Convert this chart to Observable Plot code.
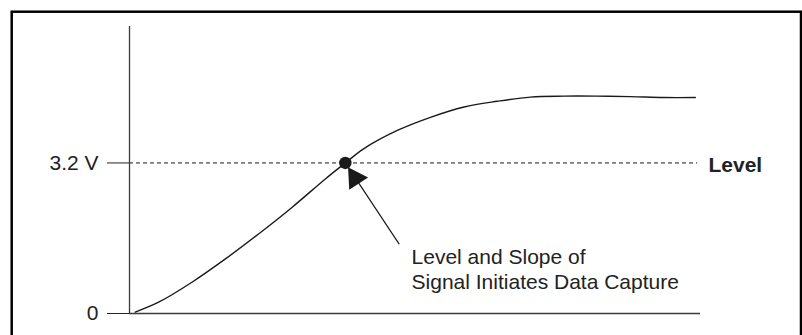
<!DOCTYPE html>
<html>
<head>
<meta charset="utf-8">
<script src="https://cdn.jsdelivr.net/npm/d3@7"></script>
<script src="https://cdn.jsdelivr.net/npm/@observablehq/plot@0.6"></script>
<style>
  html, body { margin: 0; padding: 0; background: #fff; }
  #chart svg { display: block; overflow: visible; }
</style>
</head>
<body>
<div id="chart"></div>
<script>
// Signal voltage over time (arbitrary time units 0–100, volts)
const time    = [1.0, 5.1, 11.0, 16.8, 22.6, 28.5, 34.3, 37.8, 41.0, 46.9, 52.7, 58.6, 64.4, 70.2, 76.1, 81.9, 87.7, 93.6, 99.1];
const voltage = [0.03, 0.24, 0.67, 1.16, 1.69, 2.26, 2.86, 3.20, 3.50, 3.89, 4.17, 4.39, 4.51, 4.60, 4.62, 4.62, 4.61, 4.59, 4.59];

// Trigger level and the moment the signal crosses it
const triggerLevel = 3.2;
const triggerTime = 37.8;

// Y axis ticks
const yTickValues = [0, 3.2];
const yTickLabels = ["0", "3.2 V"];

// Annotation text and where its pointer starts
const noteLines = ["Level and Slope of", "Signal Initiates Data Capture"];
const noteAnchor = {t: 49.4, v: 1.42};
const pointerTail = {t: 47.2, v: 1.48};
const levelLabel = "Level";

const signal = time.map((t, i) => ({t, v: voltage[i]}));
const crossing = [{t: triggerTime, v: triggerLevel}];

const ink = "#1a1a1a";
const axisInk = "#3a3a3a";
const fontPx = 21;

const chart = Plot.plot({
  width: 802,
  height: 335,
  marginLeft: 129,
  marginRight: 102,
  marginTop: 26,
  marginBottom: 22,
  style: {
    fontFamily: "'Liberation Sans', Arial, Helvetica, sans-serif",
    fontSize: fontPx + "px",
    color: "#222",
    background: "white",
    overflow: "visible"
  },
  x: {domain: [0, 100], axis: null},
  y: {
    domain: [0, 6.1],
    ticks: yTickValues,
    tickFormat: d => yTickLabels[yTickValues.indexOf(d)],
    tickSize: 22,
    tickPadding: 9,
    label: null
  },
  marks: [
    // outer border
    Plot.frame({stroke: "black", strokeWidth: 2.5, insetLeft: -117.8, insetTop: -14.8, insetRight: -100.5, insetBottom: -60}),
    // dashed trigger level
    Plot.ruleY([triggerLevel], {x1: 0, x2: 99.5, stroke: ink, strokeWidth: 1, strokeDasharray: "4,3"}),
    // axes lines
    Plot.ruleX([0], {stroke: axisInk, strokeWidth: 1.3}),
    Plot.ruleY([0], {stroke: axisInk, strokeWidth: 1.3}),
    // signal
    Plot.line(signal, {x: "t", y: "v", curve: "catmull-rom", stroke: ink, strokeWidth: 1.4}),
    // trigger point
    Plot.dot(crossing, {x: "t", y: "v", r: 6.2, fill: ink, stroke: "none"}),
    // pointer shaft
    Plot.arrow([{x1: pointerTail.t, y1: pointerTail.v, x2: triggerTime, y2: triggerLevel}], {
      x1: "x1", y1: "y1", x2: "x2", y2: "y2",
      headLength: 0, insetEnd: 21, stroke: ink, strokeWidth: 1.2
    }),
    // pointer head
    Plot.dot(crossing, {x: "t", y: "v", symbol: "triangle", r: 8.35, rotate: -33, dx: 9.8, dy: 15.2, fill: ink, stroke: "none"}),
    // labels
    Plot.text([noteLines.join("\n")], {
      x: noteAnchor.t, y: noteAnchor.v, text: d => d,
      textAnchor: "start", lineAnchor: "top", lineHeight: 1.17, fill: "#222", fontSize: fontPx
    }),
    Plot.text([levelLabel], {
      x: 100, y: triggerLevel, text: d => d, dx: 8, dy: 2,
      textAnchor: "start", fontWeight: "bold", fill: "#222", fontSize: fontPx
    })
  ]
});

document.getElementById("chart").appendChild(chart);
</script>
</body>
</html>
